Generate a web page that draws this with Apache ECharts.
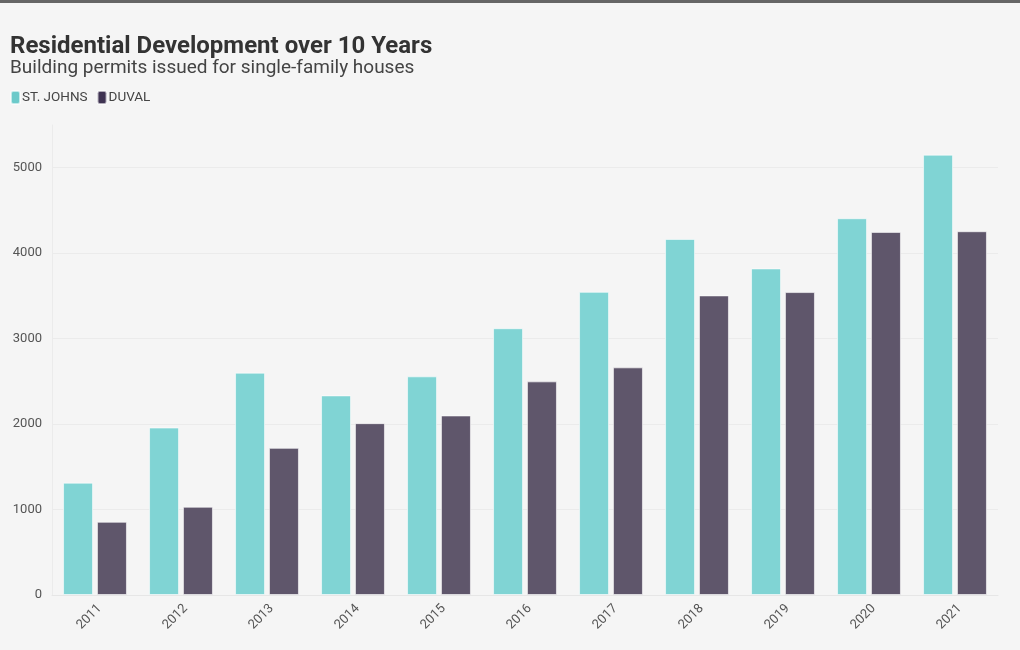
<!DOCTYPE html>
<html><head><meta charset="utf-8">
<script src="https://cdn.jsdelivr.net/npm/echarts@6/dist/echarts.min.js"></script>
<style>
html,body{margin:0;padding:0;background:#f5f5f5;}
#top{height:3px;background:#666;}
#c{width:1020px;height:647px;}
</style></head>
<body><div id="top"></div><div id="c"></div>
<script>
const years = ['2011','2012','2013','2014','2015','2016','2017','2018','2019','2020','2021'];
const stJohns = [1315, 1960, 2602, 2336, 2559, 3122, 3548, 4167, 3822, 4409, 5153];
const duval = [857, 1033, 1722, 2011, 2101, 2500, 2664, 3506, 3545, 4249, 4257];
const yTicks = [0, 1000, 2000, 3000, 4000, 5000];

const chart = echarts.init(document.getElementById('c'));
const font = 'Roboto, "Noto Sans", sans-serif';
chart.setOption({
  backgroundColor: '#f5f5f5',
  textStyle: {fontFamily: font},
  title: {
    text: 'Residential Development over 10 Years',
    subtext: 'Building permits issued for single-family houses',
    left: 5, top: 27, itemGap: 0,
    textStyle: {fontFamily: font, fontSize: 24, fontWeight: 'bold', color: '#333'},
    subtextStyle: {fontFamily: font, fontSize: 19, color: '#444'}
  },
  legend: {
    left: 5, top: 82, itemWidth: 9, itemHeight: 13, itemGap: 9,
    icon: 'roundRect',
    textStyle: {fontFamily: font, fontSize: 13.5, color: '#444', padding: [0,0,0,-3]},
    data: [
      {name: 'ST. JOHNS', itemStyle: {color: '#6ccaca'}},
      {name: 'DUVAL', itemStyle: {color: '#3f3352'}}
    ]
  },
  grid: {left: 52, right: 22, top: 122, bottom: 55},
  xAxis: {
    type: 'category', data: years,
    axisLine: {lineStyle: {color: '#e6e6e6'}},
    axisTick: {show: false},
    axisLabel: {rotate: 45, color: '#555', fontSize: 13, fontFamily: font, margin: 7, verticalAlign: 'top'}
  },
  yAxis: {
    type: 'value', min: 0, max: 5500, interval: 1000,
    axisLine: {show: true, lineStyle: {color: '#ebebeb'}},
    axisTick: {show: false},
    axisLabel: {color: '#555', fontSize: 13, fontFamily: font, margin: 10, showMaxLabel: false,
      formatter: v => String(v)},
    splitLine: {show: false}
  },
  series: [
    {
      name: 'grid', type: 'line', data: [], z: 1, silent: true,
      markLine: {
        silent: true, symbol: 'none', label: {show: false}, z: 1,
        lineStyle: {color: '#ebebeb', type: 'solid', width: 1},
        data: yTicks.slice(1).map(v => ({yAxis: v}))
      }
    },
    {
      name: 'ST. JOHNS', type: 'bar', data: stJohns, barWidth: 30, barGap: '13%',
      itemStyle: {color: '#80d4d4', borderColor: 'rgba(255,255,255,0.6)', borderWidth: 1},
      z: 3
    },
    {
      name: 'DUVAL', type: 'bar', data: duval, barWidth: 30,
      itemStyle: {color: '#5f566b', borderColor: 'rgba(255,255,255,0.6)', borderWidth: 1},
      z: 3
    }
  ]
});
</script></body></html>
